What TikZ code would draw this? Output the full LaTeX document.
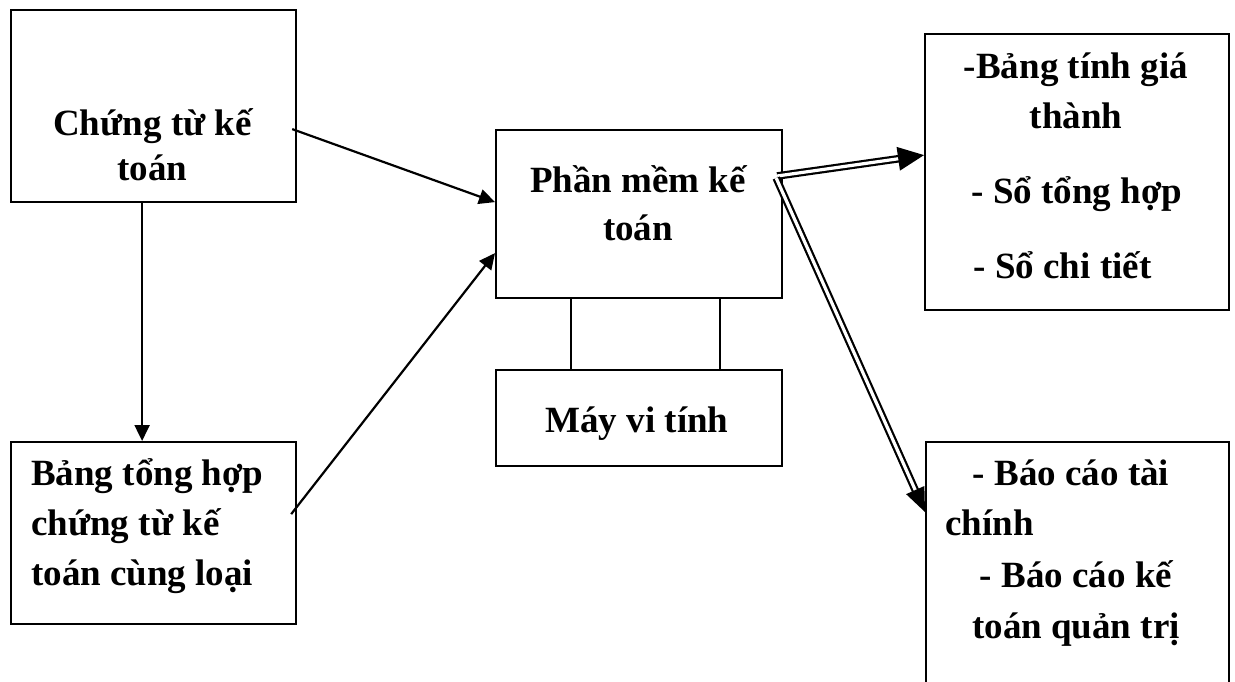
\documentclass[tikz,border=0pt]{standalone}
\usepackage{fontspec}
\setmainfont{Liberation Serif}
\usetikzlibrary{arrows.meta,calc}
\begin{document}
\begin{tikzpicture}[x=1pt,y=-1pt,
  box/.style={draw, line width=2.2pt, anchor=north west, inner sep=0pt},
  txt/.style={font=\bfseries\fontsize{37}{44}\selectfont, inner sep=0pt, anchor=base},
  txtl/.style={txt, anchor=base west},
  link/.style={line width=2.2pt, -{Triangle[length=16pt,width=15pt]}},
  dbl/.style={draw, double, line width=2.2pt, double distance=3.2pt}]
\useasboundingbox (0,0) rectangle (1235,681);
\clip (0,0) rectangle (1235,681);

% boxes
\node[box, minimum width=285pt, minimum height=192pt] (A) at (10,9) {};
\node[box, minimum width=285pt, minimum height=182pt] (D) at (10,441) {};
\node[box, minimum width=286pt, minimum height=168pt] (B) at (495,129) {};
\node[box, minimum width=286pt, minimum height=96pt] (C) at (495,369) {};
\node[box, minimum width=304pt, minimum height=276pt] (E) at (924,33) {};
\node[box, minimum width=303pt, minimum height=260pt] (F) at (925,441) {};

% box texts
\node[txt] (a1) at (152.5,135) {Chứng từ kế};
\node[txt] (a2) at (152.5,180) {toán};
\node[txt] (b1) at (638,192) {Phần mềm kế};
\node[txt] (b2) at (638,240) {toán};
\node[txt] (c1) at (637,432) {Máy vi tính};
\node[txtl] (d1) at (31,485) {Bảng tổng hợp};
\node[txtl] (d2) at (31,535) {chứng từ kế};
\node[txtl] (d3) at (31,585) {toán cùng loại};
\node[txt] (e1) at (1076,78) {-Bảng tính giá};
\node[txt] (e2) at (1076,128) {thành};
\node[txt] (e3) at (1077,203) {- Sổ tổng hợp};
\node[txt] (e4) at (1062.5,278) {- Sổ chi tiết};
\node[txt] (f1) at (1071,485) {- Báo cáo tài};
\node[txtl] (f2) at (945,535) {chính};
\node[txt] (f3) at (1076,587) {- Báo cáo kế};
\node[txt] (f4) at (1076,638) {toán quản trị};

% single arrows
\draw[link] ([xshift=-11.5pt]A.south) -- ([xshift=-11.5pt]D.north);
\draw[link] ([xshift=-5pt,yshift=-23pt]A.east) -- ([yshift=12pt]B.west);
\draw[link] ([xshift=-6pt,yshift=19pt]D.east) -- ([yshift=-39pt]B.west);

% software box sits on the computer
\draw[line width=1.8pt] ([xshift=-68pt]B.south) -- ([xshift=-68pt]C.north);
\draw[line width=1.8pt] ([xshift=81pt]B.south) -- ([xshift=81pt]C.north);

% double arrows to the outputs
\coordinate (s1) at ([xshift=-6pt,yshift=-47pt]B.north east);
\coordinate (s2) at ([xshift=-7pt,yshift=-49pt]B.north east);
\coordinate (t1) at ([yshift=17pt]E.west);
\coordinate (t2) at ([yshift=-71pt]F.north west);

\path[dbl] (s1) -- ($(t1)!22pt!(s1)$);
\fill ($(t1)!26pt!(s1)$) coordinate (h1)
  ($(h1)!12pt!90:(t1)$) -- (t1) -- ($(h1)!12pt!-90:(t1)$) -- cycle;

\path[dbl] (s2) -- ($(t2)!20pt!(s2)$);
\fill ($(t2)!24pt!(s2)$) coordinate (h2)
  ($(h2)!10pt!90:(t2)$) -- (t2) -- ($(h2)!10pt!-90:(t2)$) -- cycle;
\end{tikzpicture}
\end{document}
